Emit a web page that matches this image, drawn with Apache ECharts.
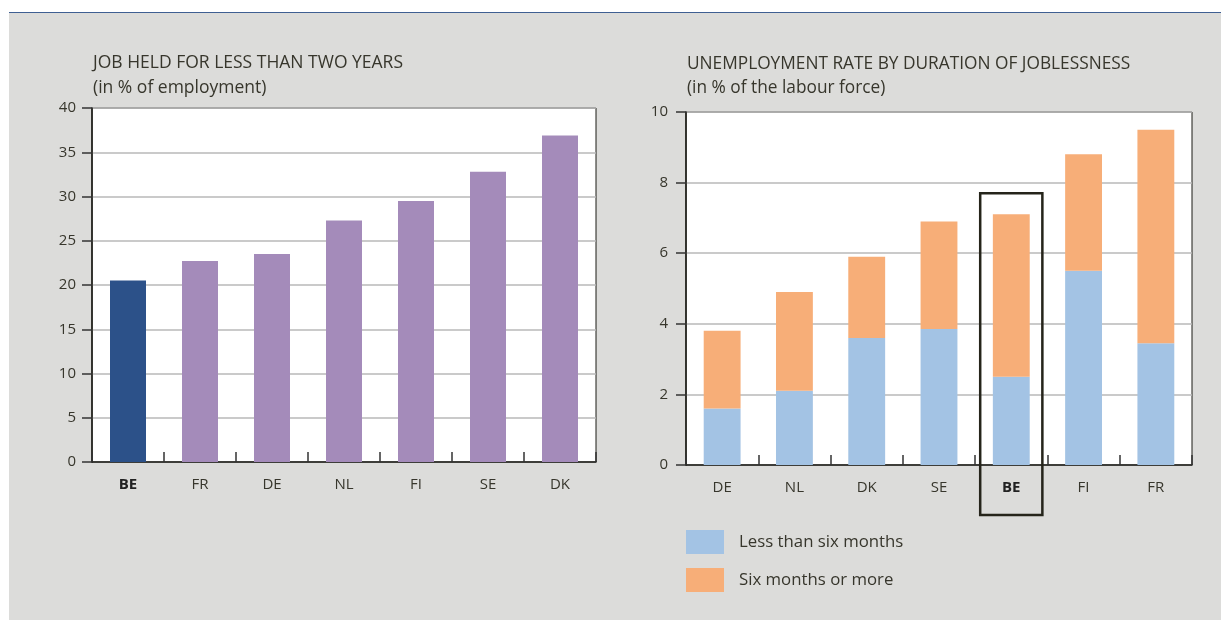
<!DOCTYPE html>
<html>
<head>
<meta charset="utf-8">
<script src="https://cdn.jsdelivr.net/npm/echarts@6/dist/echarts.min.js"></script>
<style>
  html, body { margin: 0; padding: 0; background: #ffffff; }
  #bg { position: absolute; left: 9px; top: 12px; width: 1212px; height: 608px; background: #dcdcda; border-top: 1.5px solid #3f5f92; }
  #chart { position: absolute; left: 0; top: 0; width: 1221px; height: 620px; }
</style>
</head>
<body>
<div id="bg"></div>
<div id="chart"></div>
<script>
// ---- Data ----
var jobCategories = ['BE', 'FR', 'DE', 'NL', 'FI', 'SE', 'DK'];
var jobValues = [20.5, 22.7, 23.5, 27.3, 29.5, 32.8, 36.9];
var jobTicks = [0, 5, 10, 15, 20, 25, 30, 35, 40];

var unempCategories = ['DE', 'NL', 'DK', 'SE', 'BE', 'FI', 'FR'];
var lessThanSix = [1.6, 2.1, 3.6, 3.85, 2.5, 5.5, 3.45];
var sixOrMore = [2.2, 2.8, 2.3, 3.05, 4.6, 3.3, 6.05];
var unempTicks = [0, 2, 4, 6, 8, 10];

var highlight = 'BE';

// ---- Styles ----
var FONT = '"Open Sans", "Noto Sans", sans-serif';
var TXT = '#37362c';
var NAVY = '#2c5189';
var PURPLE = '#a48bba';
var BLUE = '#a3c3e4';
var ORANGE = '#f7ae78';

var chart = echarts.init(document.getElementById('chart'), null, { renderer: 'canvas' });

function catLabel(v) {
  return v === highlight ? '{b|' + v + '}' : v;
}

function xAxisCfg(cats, gi) {
  return {
    type: 'category', gridIndex: gi, data: cats,
    axisLine: { show: true, lineStyle: { color: '#1a1a14', width: 1.5 } },
    axisTick: { show: true, inside: true, length: 10, interval: 0, lineStyle: { color: '#333', width: 1.5 } },
    axisLabel: {
      margin: 15, color: TXT, fontSize: 15, fontFamily: FONT, interval: 0,
      formatter: catLabel,
      rich: { b: { fontWeight: 'bold', fontSize: 15, fontFamily: FONT, color: '#222' } }
    },
    splitLine: { show: false }
  };
}

function yAxisCfg(ticks, gi, margin) {
  return {
    type: 'value', gridIndex: gi,
    min: ticks[0], max: ticks[ticks.length - 1], interval: ticks[1] - ticks[0],
    axisLine: { show: true, lineStyle: { color: '#1a1a14', width: 1.5 } },
    axisTick: { show: true, length: 10, lineStyle: { color: '#333', width: 1.5 } },
    axisLabel: { margin: margin, color: TXT, fontSize: 15, fontFamily: FONT },
    splitLine: { show: true, lineStyle: { color: '#b9b9b9', width: 1.5 } }
  };
}

var option = {
  animation: false,
  backgroundColor: 'transparent',
  title: [
    { text: 'JOB HELD FOR LESS THAN TWO YEARS', subtext: '(in % of employment)', left: 88, top: 49,
      textStyle: { fontFamily: FONT, fontSize: 17.5, fontWeight: 'normal', color: TXT },
      subtextStyle: { fontFamily: FONT, fontSize: 17.5, color: TXT }, itemGap: 7 },
    { text: 'UNEMPLOYMENT RATE BY DURATION OF JOBLESSNESS', subtext: '(in % of the labour force)', left: 682, top: 51,
      textStyle: { fontFamily: FONT, fontSize: 17.3, fontWeight: 'normal', color: TXT },
      subtextStyle: { fontFamily: FONT, fontSize: 17.3, color: TXT }, itemGap: 7 }
  ],
  legend: {
    data: ['Less than six months', 'Six months or more'],
    orient: 'vertical', left: 681, top: 525, itemWidth: 38, itemHeight: 24, itemGap: 14,
    icon: 'rect',
    textStyle: { fontFamily: FONT, fontSize: 16.8, color: TXT, padding: [0, 0, 0, 10] }
  },
  grid: [
    { left: 92, top: 108, width: 504, height: 354, show: true, backgroundColor: '#ffffff', borderColor: '#1a1a14', borderWidth: 1 },
    { left: 686, top: 112, width: 506, height: 353, show: true, backgroundColor: '#ffffff', borderColor: '#1a1a14', borderWidth: 1 }
  ],
  xAxis: [xAxisCfg(jobCategories, 0), xAxisCfg(unempCategories, 1)],
  yAxis: [yAxisCfg(jobTicks, 0, 16), yAxisCfg(unempTicks, 1, 18)],
  series: [
    { name: 'Job held', type: 'bar', xAxisIndex: 0, yAxisIndex: 0, data: jobValues, barWidth: '50%',
      itemStyle: { color: function (p) { return p.name === highlight ? NAVY : PURPLE; } } },
    { name: 'Less than six months', type: 'bar', stack: 'u', xAxisIndex: 1, yAxisIndex: 1, data: lessThanSix,
      barWidth: '51%', itemStyle: { color: BLUE } },
    { name: 'Six months or more', type: 'bar', stack: 'u', xAxisIndex: 1, yAxisIndex: 1, data: sixOrMore,
      barWidth: '51%', itemStyle: { color: ORANGE } }
  ]
};
chart.setOption(option);

// Highlight frame around the BE category in the right chart
var idx = unempCategories.indexOf(highlight);
var cx = chart.convertToPixel({ xAxisIndex: 1 }, idx);
var topY = chart.convertToPixel({ yAxisIndex: 1 }, lessThanSix[idx] + sixOrMore[idx] + 0.6);
var baseY = chart.convertToPixel({ yAxisIndex: 1 }, 0);
var bandW = 506 / unempCategories.length;
var w = bandW * 0.86;
chart.setOption({
  graphic: [{
    type: 'rect', z: 100, silent: true,
    shape: { x: cx - w / 2, y: topY, width: w, height: baseY + 50 - topY },
    style: { fill: 'none', stroke: '#25241a', lineWidth: 2.5 }
  }]
});
</script>
</body>
</html>
